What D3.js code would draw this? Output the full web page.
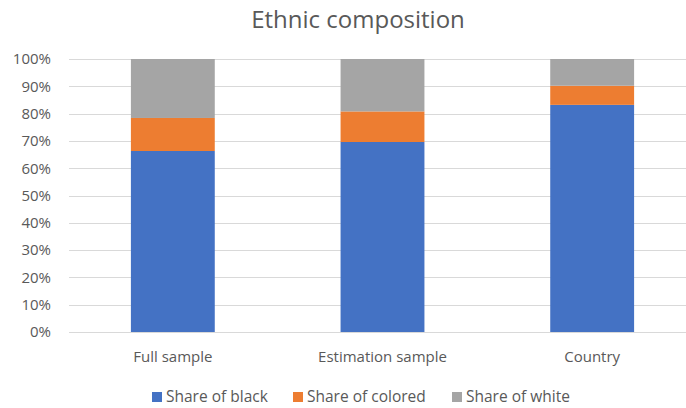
<!DOCTYPE html>
<html>
<head>
<meta charset="utf-8">
<script src="https://cdn.jsdelivr.net/npm/d3@7"></script>
<style>
  html, body { margin: 0; padding: 0; background: #fff; }
  svg { display: block; font-family: "Open Sans", "Liberation Sans", sans-serif; }
</style>
</head>
<body>
<svg id="chart" width="686" height="408"></svg>
<script>
// Samples on the horizontal axis
const categories = ["Full sample", "Estimation sample", "Country"];
// Shares (in %) stacked bottom to top
const shareBlack = [66.3, 69.6, 83.2];
const shareColored = [12.1, 11.2, 7.0];
const shareWhite = [21.6, 19.2, 9.8];
const seriesNames = ["Share of black", "Share of colored", "Share of white"];
const seriesColors = ["#4472C4", "#ED7D31", "#A5A5A5"];
const yTicks = [0, 10, 20, 30, 40, 50, 60, 70, 80, 90, 100];

const W = 686, H = 408;
const plot = { left: 68, right: 697, top: 59, bottom: 332 };
const svg = d3.select("#chart");
const textColor = "#595959";

// Title
svg.append("text")
  .attr("x", 358).attr("y", 28)
  .attr("text-anchor", "middle")
  .attr("fill", textColor)
  .style("font-size", "24px")
  .text("Ethnic composition");

const rows = categories.map((c, i) => ({
  cat: c, black: shareBlack[i], colored: shareColored[i], white: shareWhite[i]
}));
const keys = ["black", "colored", "white"];
const stacked = d3.stack().keys(keys)(rows);

const x = d3.scaleBand().domain(categories)
  .range([plot.left, plot.right])
  .paddingInner(0.6).paddingOuter(0.3);
const y = d3.scaleLinear().domain([0, 100]).range([plot.bottom, plot.top]);

// Gridlines
svg.append("g").selectAll("line").data(yTicks).join("line")
  .attr("x1", plot.left + 1).attr("x2", W)
  .attr("y1", d => Math.round(y(d)) + 0.5).attr("y2", d => Math.round(y(d)) + 0.5)
  .attr("stroke", "#D9D9D9").attr("stroke-width", 1);

// Y axis labels
const yAxis = d3.axisLeft(y).tickValues(yTicks).tickFormat(d => d + "%").tickSize(0).tickPadding(0);
const gy = svg.append("g").attr("transform", "translate(51,0)").call(yAxis);
gy.select(".domain").remove();
gy.selectAll("text").attr("fill", textColor).style("font-size", "15px")
  .style("font-family", "'Open Sans', sans-serif");

// Stacked bars
svg.append("g").selectAll("g").data(stacked).join("g")
  .attr("fill", (d, i) => seriesColors[i])
  .selectAll("rect").data(d => d).join("rect")
  .attr("x", d => x(d.data.cat))
  .attr("width", x.bandwidth())
  .attr("y", d => y(d[1]))
  .attr("height", d => y(d[0]) - y(d[1]));

// X axis labels
const xAxis = d3.axisBottom(x).tickSize(0).tickPadding(0);
const gx = svg.append("g").attr("transform", "translate(0,351)").call(xAxis);
gx.select(".domain").remove();
gx.selectAll("text").attr("fill", textColor).style("font-size", "15px")
  .style("font-family", "'Open Sans', sans-serif");

// Legend
const legendX = [152, 293, 452];
const lg = svg.append("g").selectAll("g").data(seriesNames).join("g")
  .attr("transform", (d, i) => `translate(${legendX[i]},392)`);
lg.append("rect").attr("width", 10).attr("height", 10)
  .attr("fill", (d, i) => seriesColors[i]);
lg.append("text").attr("x", 14).attr("y", 10)
  .attr("fill", textColor).style("font-size", "15.5px")
  .text(d => d);
</script>
</body>
</html>
